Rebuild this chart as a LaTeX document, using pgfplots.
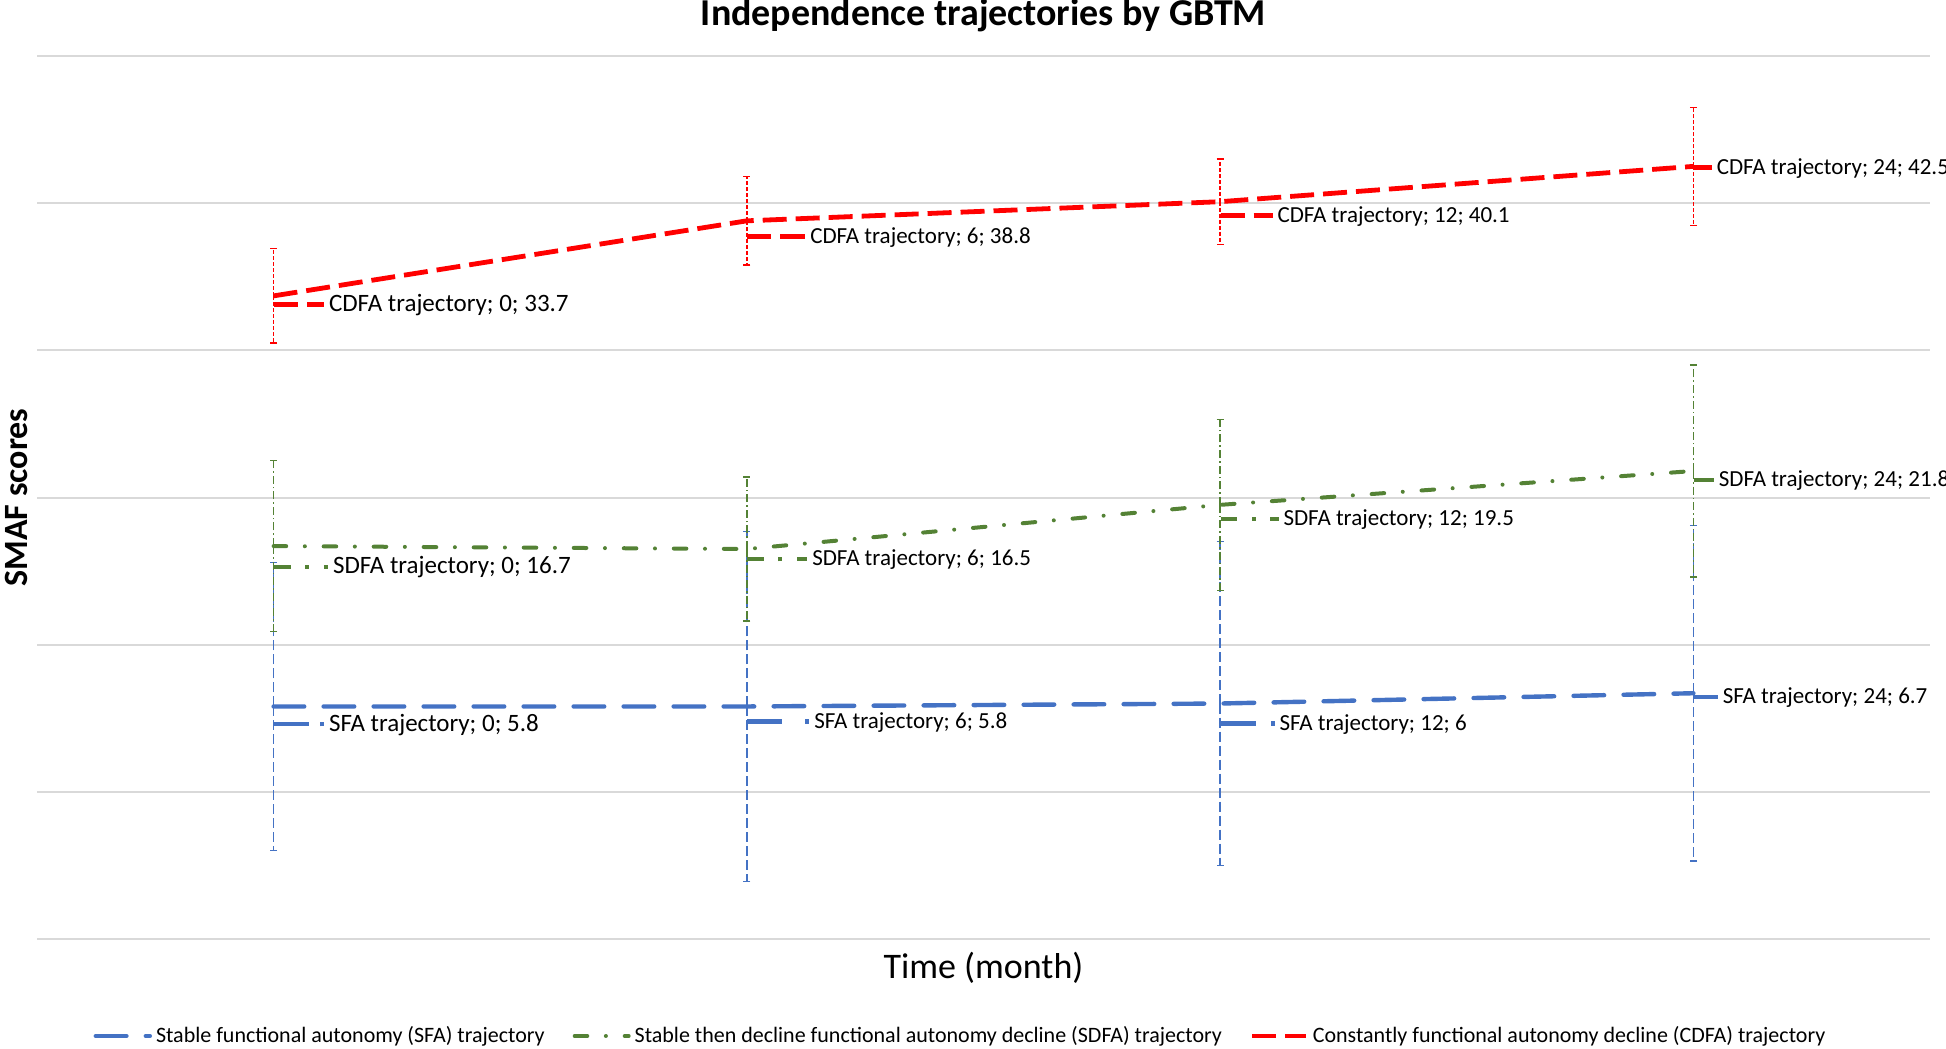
\documentclass[border=0pt]{standalone}
\usepackage{fontspec}
\setmainfont{Carlito}
\usepackage{pgfplots}
\usepackage{pgfplotstable}
\pgfplotsset{compat=1.18}

\definecolor{sfablue}{HTML}{4472C4}
\definecolor{sdfagreen}{HTML}{548235}
\definecolor{cdfared}{HTML}{FF0000}
\definecolor{gridgray}{HTML}{D9D9D9}

% x = category position, y = score, e = error bar half length
\pgfplotstableread{
x y e
0 5.8 9.8
1 5.8 11.9
2 6.0 11.0
3 6.7 11.4
}\sfa
\pgfplotstableread{
x y e
0 16.7 5.8
1 16.5 4.9
2 19.5 5.8
3 21.8 7.2
}\sdfa
\pgfplotstableread{
x y e
0 33.7 3.2
1 38.8 3.0
2 40.1 2.9
3 42.5 4.0
}\cdfa

% little legend keys in front of the data labels
\newcommand\sfakey[1]{\textcolor{sfablue}{\ifdim#1pt>15pt
  \rule[.2em]{17.5pt}{2.2pt}\hspace{\dimexpr#1pt-19.5pt}\rule[.2em]{2pt}{2.2pt}%
  \else\rule[.2em]{#1pt}{2.2pt}\fi}}
\newcommand\sdfakey[1]{\textcolor{sdfagreen}{\ifdim#1pt>15pt
  \rule[.2em]{8.3pt}{2pt}\hspace{7.3pt}\rule[.2em]{2pt}{2pt}\hspace{7.3pt}\rule[.2em]{\dimexpr#1pt-24.9pt}{2pt}%
  \else\rule[.2em]{#1pt}{2pt}\fi}}
\newcommand\cdfakey[1]{\textcolor{cdfared}{\ifdim#1pt>15pt
  \rule[.2em]{12pt}{2.4pt}\hspace{4.5pt}\rule[.2em]{\dimexpr#1pt-16.5pt}{2.4pt}%
  \else\rule[.2em]{#1pt}{2.4pt}\fi}}

% data label: key, name, x, y, month, dy, key length, font size
\newcommand\lbl[8]{%
  \addplot[forget plot, draw=none, mark=none, point meta=y,
    nodes near coords={\fontsize{#8}{#8}\selectfont\raisebox{\dimexpr#6pt-.3em\relax}[0pt][0pt]{#1{#7}\hspace{2.5pt}#2 trajectory; #5; #4}},
    every node near coord/.append style={anchor=west, inner sep=0pt, text=black}]
    coordinates {(#3,#4)};}

\tikzset{
  sfaline/.style={color=sfablue, line width=2.2pt, line cap=round, dash pattern=on 15.3pt off 9.7pt},
  sdfaline/.style={color=sdfagreen, line width=2pt, line cap=round, dash pattern=on 6.3pt off 9.3pt on 0.01pt off 9.4pt},
  cdfaline/.style={color=cdfared, line width=2.4pt, line cap=butt, dash pattern=on 12pt off 4.5pt},
}

\begin{document}
\begin{tikzpicture}
\begin{axis}[
  name=ax,
  scale only axis,
  width=946.5pt, height=441.5pt,
  xmin=-0.5, xmax=3.5,
  ymin=-10, ymax=50,
  xtick=\empty,
  ytick={-10,0,...,50},
  yticklabels={},
  ymajorgrids=true,
  grid style={line width=1pt, color=gridgray},
  axis line style={draw=none},
  tick style={draw=none},
  clip=false,
  title={Independence trajectories by GBTM},
  title style={at={(axis description cs:0.5,1)}, anchor=base, yshift=9pt, font=\bfseries\fontsize{19}{22}\selectfont},
  xlabel={Time (month)},
  xlabel style={at={(axis description cs:0.5,0)}, anchor=base, yshift=-19.5pt, font=\fontsize{18}{21}\selectfont},
  ylabel={SMAF scores},
  ylabel style={at={(axis description cs:0,0.5)}, anchor=base, yshift=5pt, font=\bfseries\fontsize{17}{20}\selectfont},
  legend columns=3,
  legend style={at={(axis description cs:0.5,0)}, anchor=center, yshift=-48.5pt, xshift=-11pt, draw=none, font=\fontsize{11}{13}\selectfont, /tikz/every even column/.append style={column sep=12pt}},
  legend image code/.code={\draw[#1] (0pt,0pt) -- (27pt,0pt);},
]
\addplot[sfaline, mark=none,
  error bars/.cd, y dir=both, y explicit,
  error bar style={line width=0.75pt, line cap=butt, dash pattern=on 5pt off 2pt},
  error mark options={rotate=90, mark size=1.8pt, line width=0.75pt, solid, color=sfablue}]
  table[x=x, y=y, y error=e]{\sfa};
\addlegendentry{Stable functional autonomy (SFA) trajectory}
\addplot[sdfaline, mark=none,
  error bars/.cd, y dir=both, y explicit,
  error bar style={line width=0.7pt, line cap=butt, dash pattern=on 4pt off 1.5pt on 0.8pt off 1.5pt},
  error mark options={rotate=90, mark size=1.8pt, line width=0.7pt, solid, color=sdfagreen}]
  table[x=x, y=y, y error=e]{\sdfa};
\addlegendentry{Stable then decline functional autonomy decline (SDFA) trajectory}
\addplot[cdfaline, mark=none,
  error bars/.cd, y dir=both, y explicit,
  error bar style={line width=0.7pt, line cap=butt, dash pattern=on 2pt off 1pt},
  error mark options={rotate=90, mark size=1.8pt, line width=0.7pt, solid, color=cdfared}]
  table[x=x, y=y, y error=e]{\cdfa};
\addlegendentry{Constantly functional autonomy decline (CDFA) trajectory}

\lbl{\sfakey}{SFA}{0}{5.8}{0}{-8.7}{25}{12.5}
\lbl{\sfakey}{SFA}{1}{5.8}{6}{-7.4}{31}{11.5}
\lbl{\sfakey}{SFA}{2}{6}{12}{-10}{27}{11.5}
\lbl{\sfakey}{SFA}{3}{6.7}{24}{-1.9}{12}{11.5}
\lbl{\sdfakey}{SDFA}{0}{16.7}{0}{-10}{27}{12.5}
\lbl{\sdfakey}{SDFA}{1}{16.5}{6}{-5}{30}{11.5}
\lbl{\sdfakey}{SDFA}{2}{19.5}{12}{-6.8}{29}{11.5}
\lbl{\sdfakey}{SDFA}{3}{21.8}{24}{-4.3}{10}{11.5}
\lbl{\cdfakey}{CDFA}{0}{33.7}{0}{-4.3}{25}{12.5}
\lbl{\cdfakey}{CDFA}{1}{38.8}{6}{-8}{29}{11.5}
\lbl{\cdfakey}{CDFA}{2}{40.1}{12}{-6.8}{26}{11.5}
\lbl{\cdfakey}{CDFA}{3}{42.5}{24}{-0.6}{9}{11.5}
\end{axis}
\pgfresetboundingbox
\path[use as bounding box] ([shift={(-18.5pt,-54.5pt)}]ax.south west) rectangle ([shift={(8pt,28pt)}]ax.north east);
\end{tikzpicture}
\end{document}
